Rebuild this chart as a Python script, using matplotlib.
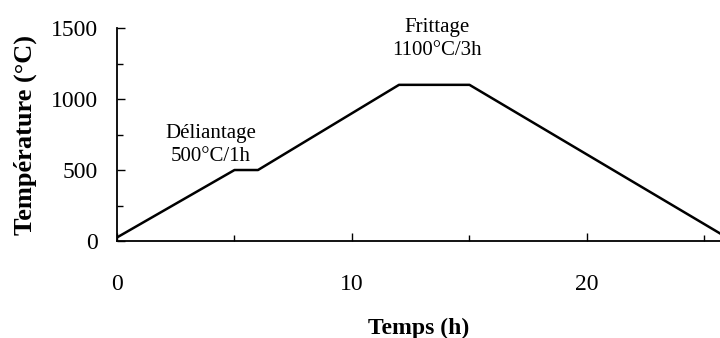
import matplotlib.pyplot as plt
from matplotlib.ticker import MultipleLocator

# cycle thermique : temps (h) / température (°C)
temps = [0, 5, 6, 12, 15, 26]
temperature = [25, 500, 500, 1100, 1100, 20]

annot_deliantage = "Déliantage\n500°C/1h"
annot_frittage = "Frittage\n1100°C/3h"

plt.rcParams["font.family"] = ["Liberation Serif", "DejaVu Serif"]

fig = plt.figure(figsize=(7.2, 3.38), dpi=100)
ax = fig.add_axes([0.1625, 0.287, 0.8375, 0.63])

ax.plot(temps, temperature, color="black", lw=1.8, clip_on=True)

ax.set_xlim(0, 25.66)
ax.set_ylim(0, 1500)
ax.xaxis.set_major_locator(MultipleLocator(10))
ax.xaxis.set_minor_locator(MultipleLocator(5))
ax.yaxis.set_major_locator(MultipleLocator(500))
ax.yaxis.set_minor_locator(MultipleLocator(250))

for side in ("top", "right"):
    ax.spines[side].set_visible(False)
for side in ("left", "bottom"):
    ax.spines[side].set_linewidth(1.3)

ax.tick_params(which="both", direction="in", width=1.0, labelsize=17)
ax.tick_params(which="major", length=6)
ax.tick_params(which="minor", length=4)
ax.tick_params(axis="x", which="major", pad=24)
ax.tick_params(axis="y", which="major", pad=14)

ax.set_xlabel("Temps (h)", fontsize=17, fontweight="bold", labelpad=16)
ax.set_ylabel("Température (°C)", fontsize=19, fontweight="bold", labelpad=10)

ax.text(4.0, 525, annot_deliantage, ha="center", va="bottom", fontsize=15,
        linespacing=1.3)
ax.text(13.6, 1275, annot_frittage, ha="center", va="bottom", fontsize=15,
        linespacing=1.3)

fig.savefig("out.png", dpi=100)
